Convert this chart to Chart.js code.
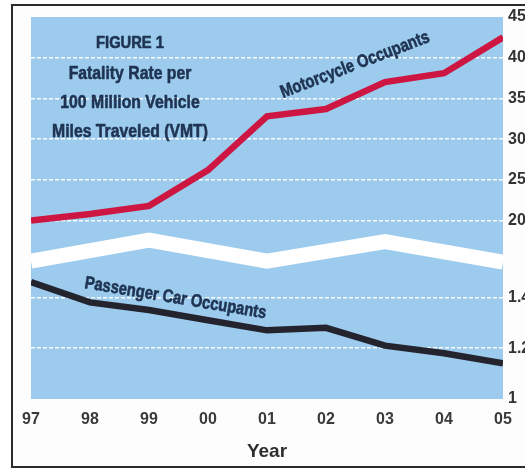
<!DOCTYPE html>
<html>
<head>
<meta charset="utf-8">
<script src="https://cdn.jsdelivr.net/npm/chart.js@4.4.1/dist/chart.umd.min.js"></script>
<style>
  html, body { margin: 0; padding: 0; background: #fff; }
  #wrap { position: relative; width: 525px; height: 470px; overflow: hidden; }
  #frame { position: absolute; left: 11px; top: 4px; width: 540px; height: 460px; border: 2px solid #2b2b2b; background: #fdfdfd; }
  canvas { position: absolute; left: 0; top: 0; }
</style>
</head>
<body>
<div id="wrap">
  <div id="frame"></div>
  <canvas id="chart" width="525" height="470"></canvas>
</div>
<script>
// fatality rate per 100 million VMT
const years = ['97', '98', '99', '00', '01', '02', '03', '04', '05'];
const motorcycleRate = [20.0, 20.8, 21.8, 26.2, 32.8, 33.7, 37.0, 38.1, 42.5];
const passengerCarRate = [1.46, 1.38, 1.35, 1.31, 1.27, 1.28, 1.21, 1.18, 1.14];

// right hand axis is broken: motorcycle scale on top, car scale below
const upperTicks = [20, 25, 30, 35, 40, 45];
const lowerTicks = [1, 1.2, 1.4];
// white zigzag marking the break (drawn on the upper scale)
const axisBreak = [15.0, null, 17.6, null, 15.0, null, 17.4, null, 14.9];

const titleLines = ['FIGURE 1', 'Fatality Rate per', '100 Million Vehicle', 'Miles Traveled (VMT)'];
const seriesNames = ['Motorcycle Occupants', 'Passenger Car Occupants'];

const FONT = "'Liberation Sans', Arial, sans-serif";
const TEXT = '#1f3352';

Chart.defaults.font.family = FONT;

const plotBackground = {
  id: 'plotBackground',
  beforeDraw(chart) {
    const {ctx, chartArea: a} = chart;
    ctx.save();
    ctx.fillStyle = '#9ccbed';
    ctx.fillRect(a.left, a.top, a.width, a.height);
    ctx.restore();
  }
};

// condensed heavy look: squeeze the text horizontally and stroke it a bit
const drawNarrow = (ctx, text, x, y, deg, squeeze) => {
  ctx.save();
  ctx.translate(x, y);
  ctx.rotate(deg * Math.PI / 180);
  ctx.scale(squeeze, 1);
  ctx.fillText(text, 0, 0);
  ctx.strokeText(text, 0, 0);
  ctx.restore();
};

const annotations = {
  id: 'annotations',
  afterDraw(chart) {
    const ctx = chart.ctx;
    ctx.save();
    ctx.fillStyle = TEXT;
    ctx.strokeStyle = TEXT;
    ctx.lineWidth = 0.6;
    ctx.lineJoin = 'round';
    ctx.textAlign = 'center';
    ctx.textBaseline = 'middle';
    ctx.font = 'bold 16px ' + FONT;
    drawNarrow(ctx, titleLines[0], 130, 44, 0, 0.92);
    ctx.font = 'bold 19px ' + FONT;
    titleLines.slice(1).forEach((t, i) => drawNarrow(ctx, t, 130, 74 + i * 29, 0, 0.83));

    ctx.textAlign = 'left';
    ctx.textBaseline = 'alphabetic';
    ctx.font = 'bold 18px ' + FONT;
    drawNarrow(ctx, seriesNames[0], 283, 98, -21, 0.82);
    drawNarrow(ctx, seriesNames[1], 84, 288, 9.5, 0.82);
    ctx.restore();
  }
};

const gridOpts = {
  drawTicks: false,
  lineWidth: 1.5,
  color: c => (c.tick && (c.tick.value === 45 || c.tick.value === 1)) ? 'rgba(0,0,0,0)' : 'rgba(255,255,255,0.95)'
};
const borderOpts = { display: false, dash: [4, 2] };
const yTickOpts = {
  padding: 5,
  color: '#333',
  font: { size: 16, weight: 'bold' },
  callback: v => String(v)
};

new Chart(document.getElementById('chart'), {
  type: 'line',
  data: {
    labels: years,
    datasets: [
      {
        label: seriesNames[0],
        data: motorcycleRate,
        yAxisID: 'yUpper',
        borderColor: '#cd1641',
        borderWidth: 6.5,
        clip: 0
      },
      {
        label: seriesNames[1],
        data: passengerCarRate,
        yAxisID: 'yLower',
        borderColor: '#24242f',
        borderWidth: 6.5,
        clip: 0
      },
      {
        label: 'break',
        data: axisBreak,
        yAxisID: 'yUpper',
        borderColor: '#ffffff',
        borderWidth: 15,
        spanGaps: true,
        clip: false
      }
    ]
  },
  options: {
    responsive: false,
    animation: false,
    layout: { padding: { left: 31, top: 17, right: 0, bottom: 7 } },
    elements: {
      point: { radius: 0 },
      line: { tension: 0, borderJoinStyle: 'miter', borderCapStyle: 'butt' }
    },
    plugins: {
      legend: { display: false },
      tooltip: { enabled: false }
    },
    scales: {
      x: {
        grid: { display: false, drawTicks: false },
        border: { display: false },
        ticks: {
          padding: 11,
          autoSkip: false,
          maxRotation: 0,
          color: '#3a3a3a',
          font: { size: 16, weight: 'bold' }
        },
        title: {
          display: true,
          text: 'Year',
          color: '#2e2e2e',
          padding: 0,
          font: { size: 19, weight: 'bold' }
        },
        afterFit: s => { s.height = 64; }
      },
      yUpper: {
        type: 'linear',
        position: 'right',
        stack: 'rate',
        stackWeight: 232,
        min: 16.5,
        max: 45,
        afterBuildTicks: s => { s.ticks = upperTicks.map(v => ({ value: v })); },
        afterFit: s => { s.width = 22; },
        grid: gridOpts,
        border: borderOpts,
        ticks: yTickOpts
      },
      yLower: {
        type: 'linear',
        position: 'right',
        stack: 'rate',
        stackWeight: 150,
        min: 1,
        max: 1.59,
        afterBuildTicks: s => { s.ticks = lowerTicks.map(v => ({ value: v })); },
        afterFit: s => { s.width = 22; },
        grid: gridOpts,
        border: borderOpts,
        ticks: yTickOpts
      }
    }
  },
  plugins: [plotBackground, annotations]
});
</script>
</body>
</html>
